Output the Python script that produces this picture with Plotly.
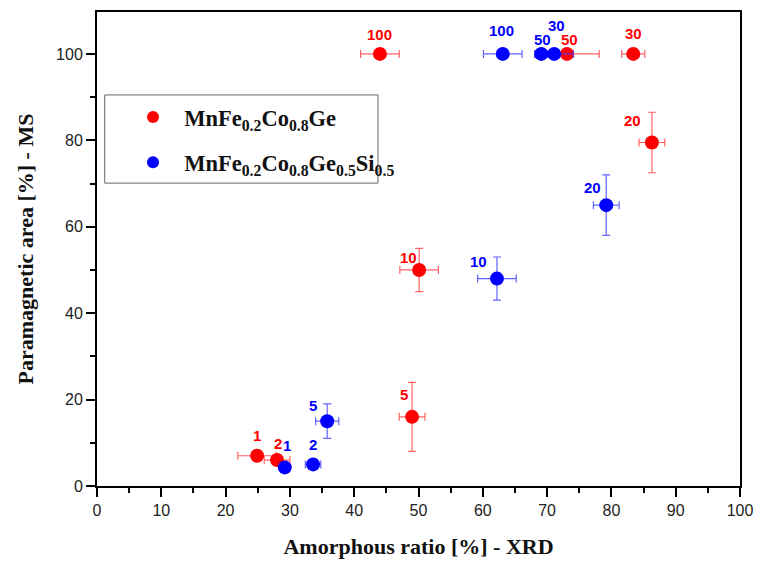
import plotly.graph_objects as go

# MnFe0.2Co0.8Ge (red)
red_labels = ["1", "2", "5", "10", "20", "30", "50", "100"]
red_x = [24.9, 28.0, 49.0, 50.1, 86.3, 83.4, 73.1, 44.0]
red_y = [7.0, 6.0, 16.0, 50.0, 79.5, 100.0, 100.0, 100.0]
red_xerr = [3.0, 2.0, 2.0, 3.0, 2.0, 1.8, 5.0, 3.0]
red_yerr = [0.0, 0.0, 8.0, 5.0, 7.0, 0.0, 0.0, 0.0]

# MnFe0.2Co0.8Ge0.5Si0.5 (blue)
blue_labels = ["1", "2", "5", "10", "20", "30", "50", "100"]
blue_x = [29.2, 33.6, 35.8, 62.2, 79.2, 71.1, 69.1, 63.1]
blue_y = [4.3, 5.0, 15.0, 48.0, 65.0, 100.0, 100.0, 100.0]
blue_xerr = [0.8, 1.2, 1.8, 3.0, 2.0, 3.0, 1.0, 3.0]
blue_yerr = [0.0, 1.0, 4.0, 5.0, 7.0, 0.0, 0.0, 0.0]

# label pixel offsets (dx, dy) relative to the point
red_off = [(0, 20), (1, 17), (-8, 22), (-11, 12), (-19, 22), (0, 20), (2, 14), (0, 19)]
blue_off = [(2, 22), (0, 20), (-14, 16), (-18, 17), (-14, 18), (2, 28), (1, 14), (-1, 23)]

fig = go.Figure()

fig.add_trace(go.Scatter(
    x=red_x, y=red_y, mode="markers",
    name="\u00a0\u00a0<b>MnFe<sub>0.2</sub>Co<sub>0.8</sub>Ge</b>",
    legendgroup="a",
    marker=dict(color="#ff0000", size=14),
    error_x=dict(type="data", array=red_xerr, color="rgba(255,60,60,0.8)", thickness=1.2, width=4),
    error_y=dict(type="data", array=red_yerr, color="rgba(255,60,60,0.8)", thickness=1.2, width=4),
))
fig.add_trace(go.Scatter(
    x=blue_x, y=blue_y, mode="markers",
    name="\u00a0\u00a0<b>MnFe<sub>0.2</sub>Co<sub>0.8</sub>Ge<sub>0.5</sub>Si<sub>0.5</sub></b>",
    legendgroup="b",
    marker=dict(color="#0000ff", size=14),
    error_x=dict(type="data", array=blue_xerr, color="rgba(60,60,255,0.8)", thickness=1.2, width=4),
    error_y=dict(type="data", array=blue_yerr, color="rgba(60,60,255,0.8)", thickness=1.2, width=4),
))

annos = []
for lbls, xs, ys, offs, col in [(red_labels, red_x, red_y, red_off, "#ff0000"),
                                (blue_labels, blue_x, blue_y, blue_off, "#0000ff")]:
    for l, xv, yv, (dx, dy) in zip(lbls, xs, ys, offs):
        annos.append(dict(x=xv, y=yv, text="<b>%s</b>" % l, showarrow=False,
                          xshift=dx, yshift=dy,
                          font=dict(family="Liberation Sans, Arial", size=15, color=col)))

fig.add_shape(type="rect", xref="paper", yref="paper",
              x0=0.012, x1=0.437, y0=0.639, y1=0.825,
              line=dict(color="#666666", width=1), fillcolor="white", layer="below")

fig.update_layout(
    width=757, height=563,
    margin=dict(l=97, r=17, t=12, b=77, autoexpand=False),
    paper_bgcolor="white", plot_bgcolor="white",
    annotations=annos,
    showlegend=True,
    legend=dict(x=0.056, y=0.823, xanchor="left", yanchor="top",
                borderwidth=0, bgcolor="rgba(0,0,0,0)",
                font=dict(family="Liberation Serif, Times New Roman", size=22.5, color="#111111"),
                itemsizing="constant", tracegroupgap=13),
    xaxis=dict(range=[0, 100], tickmode="linear", tick0=0, dtick=10,
               showgrid=False, zeroline=False, automargin=False,
               showline=True, linecolor="black", linewidth=2, mirror=True,
               ticks="outside", ticklen=9, tickwidth=1.5, tickcolor="black",
               minor=dict(dtick=5, ticks="outside", ticklen=5, tickcolor="black", tickwidth=1.5),
               tickfont=dict(family="Liberation Sans, Arial", size=16, color="#222222"),
               title=dict(text="<b>Amorphous ratio [%] - XRD</b>", standoff=20,
                          font=dict(family="Liberation Serif, Times New Roman", size=22, color="#111111"))),
    yaxis=dict(range=[0, 109.7], tickmode="array", tickvals=[0, 20, 40, 60, 80, 100],
               showgrid=False, zeroline=False, automargin=False,
               showline=True, linecolor="black", linewidth=2, mirror=True,
               ticks="outside", ticklen=9, tickwidth=1.5, tickcolor="black",
               minor=dict(tickvals=[10, 30, 50, 70, 90], ticks="outside", ticklen=5, tickcolor="black", tickwidth=1.5),
               tickfont=dict(family="Liberation Sans, Arial", size=16, color="#222222"),
               title=dict(text="<b>Paramagnetic area [%] - MS</b>", standoff=16,
                          font=dict(family="Liberation Serif, Times New Roman", size=22, color="#111111"))),
)

fig.write_html("out.html")
